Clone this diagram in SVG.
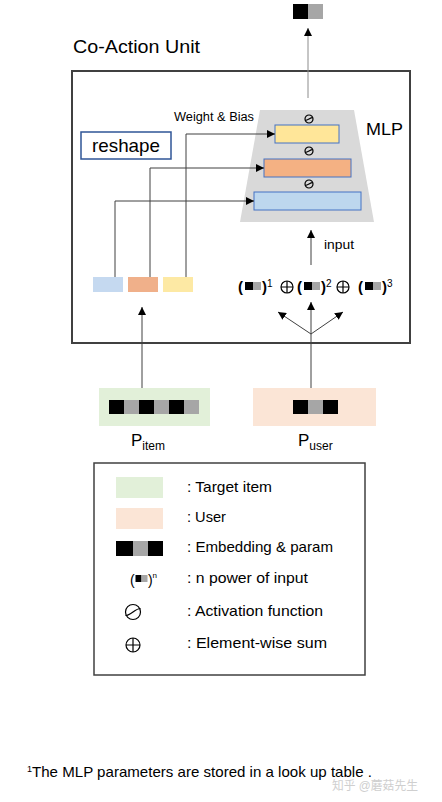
<svg xmlns="http://www.w3.org/2000/svg" width="442" height="802" viewBox="0 0 442 802">
<defs>
<style>
text{font-family:"Liberation Sans",Arial,sans-serif;fill:#000}
.bk{fill:#000}
.gr{fill:#a6a6a6}
.ln{fill:none;stroke:#404040;stroke-width:1}
.sym{fill:none;stroke:#000;stroke-width:1.2}
.lay{stroke:#4472c4;stroke-width:1}
.leg{font-size:15px}
</style>
<marker id="ah" viewBox="0 0 10 10" refX="10" refY="5" markerWidth="8" markerHeight="8" markerUnits="userSpaceOnUse" orient="auto">
<path d="M0,0 L10,5 L0,10 z" fill="#000"/>
</marker>
<g id="act-s"><circle r="4" class="sym"/><path d="M-3.8,1.4 C-0.8,1.4 0.8,-1.4 3.8,-1.4" class="sym"/></g>
<g id="plus"><circle r="6" class="sym"/><path d="M-6,0 H6 M0,-6 V6" class="sym"/></g>
</defs>
<rect width="442" height="802" fill="#fff"/>

<g id="output">
<rect x="293" y="4" width="15" height="15" class="bk"/>
<rect x="308" y="4" width="15" height="15" class="gr"/>
</g>

<g id="title"><text x="73" y="53" font-size="18" textLength="127" lengthAdjust="spacingAndGlyphs">Co-Action Unit</text></g>

<g id="co-action-unit">
<rect x="72" y="71" width="338" height="272" fill="none" stroke="#404040" stroke-width="2"/>
</g>

<g id="mlp">
<polygon points="260,110 354,110 374,222 240,222" fill="#d9d9d9"/>
<rect x="275" y="125" width="64" height="18" fill="#ffe699" class="lay"/>
<rect x="264" y="159" width="87" height="18" fill="#f4b183" class="lay"/>
<rect x="254" y="192" width="107" height="18" fill="#bdd7ee" class="lay"/>
<use href="#act-s" x="309" y="119"/>
<use href="#act-s" x="309" y="151"/>
<use href="#act-s" x="309" y="184"/>
<text x="366" y="135" font-size="17" textLength="37" lengthAdjust="spacingAndGlyphs">MLP</text>
</g>

<g id="reshape">
<rect x="81" y="132" width="90" height="27" fill="#fff" stroke="#2f5597" stroke-width="1.5"/>
<text x="92" y="152" font-size="19" textLength="68" lengthAdjust="spacingAndGlyphs">reshape</text>
</g>

<g id="weight-bias-label"><text x="174" y="121" font-size="12.5" textLength="80" lengthAdjust="spacingAndGlyphs">Weight &amp; Bias</text></g>

<g id="params">
<rect x="93" y="277" width="30" height="15" fill="#c5d9f0"/>
<rect x="128" y="277" width="30" height="15" fill="#f0b08a"/>
<rect x="163" y="277" width="30" height="15" fill="#fde9a4"/>
</g>

<g id="input-label"><text x="324" y="249" font-size="12" textLength="30" lengthAdjust="spacingAndGlyphs">input</text></g>

<g id="powers">
<text x="238" y="292" font-size="15" font-weight="bold">(</text>
<rect x="245" y="282" width="8" height="8" class="bk"/><rect x="253" y="282" width="8" height="8" class="gr"/>
<text x="262" y="292" font-size="15" font-weight="bold">)</text>
<text x="267" y="287" font-size="10">1</text>
<use href="#plus" x="287" y="287"/>
<text x="297" y="292" font-size="15" font-weight="bold">(</text>
<rect x="304" y="282" width="8" height="8" class="bk"/><rect x="312" y="282" width="8" height="8" class="gr"/>
<text x="321" y="292" font-size="15" font-weight="bold">)</text>
<text x="326" y="287" font-size="10">2</text>
<use href="#plus" x="343" y="287"/>
<text x="358" y="292" font-size="15" font-weight="bold">(</text>
<rect x="365" y="282" width="8" height="8" class="bk"/><rect x="373" y="282" width="8" height="8" class="gr"/>
<text x="382" y="292" font-size="15" font-weight="bold">)</text>
<text x="387" y="287" font-size="10">3</text>
</g>

<g id="p-item">
<rect x="99" y="388" width="111" height="38" fill="#e2f0d9"/>
<rect x="109" y="400" width="15" height="14" class="bk"/><rect x="124" y="400" width="15" height="14" class="gr"/>
<rect x="139" y="400" width="15" height="14" class="bk"/><rect x="154" y="400" width="15" height="14" class="gr"/>
<rect x="169" y="400" width="15" height="14" class="bk"/><rect x="184" y="400" width="15" height="14" class="gr"/>
<text x="131" y="446" font-size="17">P<tspan font-size="12" dy="4">item</tspan></text>
</g>

<g id="p-user">
<rect x="253" y="388" width="123" height="38" fill="#fbe5d6"/>
<rect x="293" y="400" width="15" height="14" class="bk"/><rect x="308" y="400" width="15" height="14" class="gr"/>
<rect x="323" y="400" width="15" height="14" class="bk"/>
<text x="298" y="446" font-size="17">P<tspan font-size="12" dy="4">user</tspan></text>
</g>

<g id="connectors">
<path d="M308,98 V28" fill="none" stroke="#8c8c8c" stroke-width="1" marker-end="url(#ah)"/>
<path d="M311,265 V230" class="ln" marker-end="url(#ah)"/>
<path d="M186,277 V134 H275" class="ln" marker-end="url(#ah)"/>
<path d="M150,277 V168 H264" class="ln" marker-end="url(#ah)"/>
<path d="M115,277 V201 H254" class="ln" marker-end="url(#ah)"/>
<path d="M142,388 V307" class="ln" marker-end="url(#ah)"/>
<path d="M311,388 V334" class="ln"/>
<path d="M311,334 L278,312" class="ln" marker-end="url(#ah)"/>
<path d="M311,334 V302" class="ln" marker-end="url(#ah)"/>
<path d="M311,334 L343,312" class="ln" marker-end="url(#ah)"/>
</g>

<g id="legend">
<rect x="94" y="463" width="271" height="212" fill="none" stroke="#404040" stroke-width="1.5"/>
<rect x="116" y="477" width="47" height="21" fill="#e2f0d9"/>
<text x="187" y="492" class="leg" textLength="85" lengthAdjust="spacingAndGlyphs">: Target item</text>
<rect x="116" y="508" width="47" height="21" fill="#fbe5d6"/>
<text x="187" y="522" class="leg" textLength="39" lengthAdjust="spacingAndGlyphs">: User</text>
<rect x="116" y="541" width="17" height="15" class="bk"/><rect x="133" y="541" width="15" height="15" class="gr"/><rect x="148" y="541" width="15" height="15" class="bk"/>
<text x="187" y="552" class="leg" textLength="146" lengthAdjust="spacingAndGlyphs">: Embedding &amp; param</text>
<text x="130" y="585" font-size="14">(</text>
<rect x="135.5" y="575" width="6" height="7" class="bk"/><rect x="141.5" y="575" width="6" height="7" class="gr"/>
<text x="148" y="585" font-size="14">)</text>
<text x="152.5" y="578" font-size="8">n</text>
<text x="187" y="583" class="leg" textLength="121" lengthAdjust="spacingAndGlyphs">: n power of input</text>
<circle cx="133" cy="612" r="7.5" class="sym"/>
<path d="M125.5,615.5 C131,615.5 135,608.5 140.5,608.5" class="sym"/>
<text x="187" y="616" class="leg" textLength="136" lengthAdjust="spacingAndGlyphs">: Activation function</text>
<circle cx="133" cy="645" r="7" class="sym"/>
<path d="M126,645 H140 M133,638 V652" class="sym"/>
<text x="187" y="648" class="leg" textLength="140" lengthAdjust="spacingAndGlyphs">: Element-wise sum</text>
</g>

<g id="footnote">
<text x="27" y="777" font-size="15" textLength="345" lengthAdjust="spacingAndGlyphs"><tspan font-size="9" dy="-5">1</tspan><tspan dy="5">The MLP parameters are stored in a look up table .</tspan></text>
</g>

<g id="watermark">
<text x="332" y="790" font-size="12" style="fill:#cfcfcf;font-family:'Liberation Sans','Noto Sans CJK SC',sans-serif" textLength="86" lengthAdjust="spacingAndGlyphs">知乎 @蘑菇先生</text>
</g>
</svg>
